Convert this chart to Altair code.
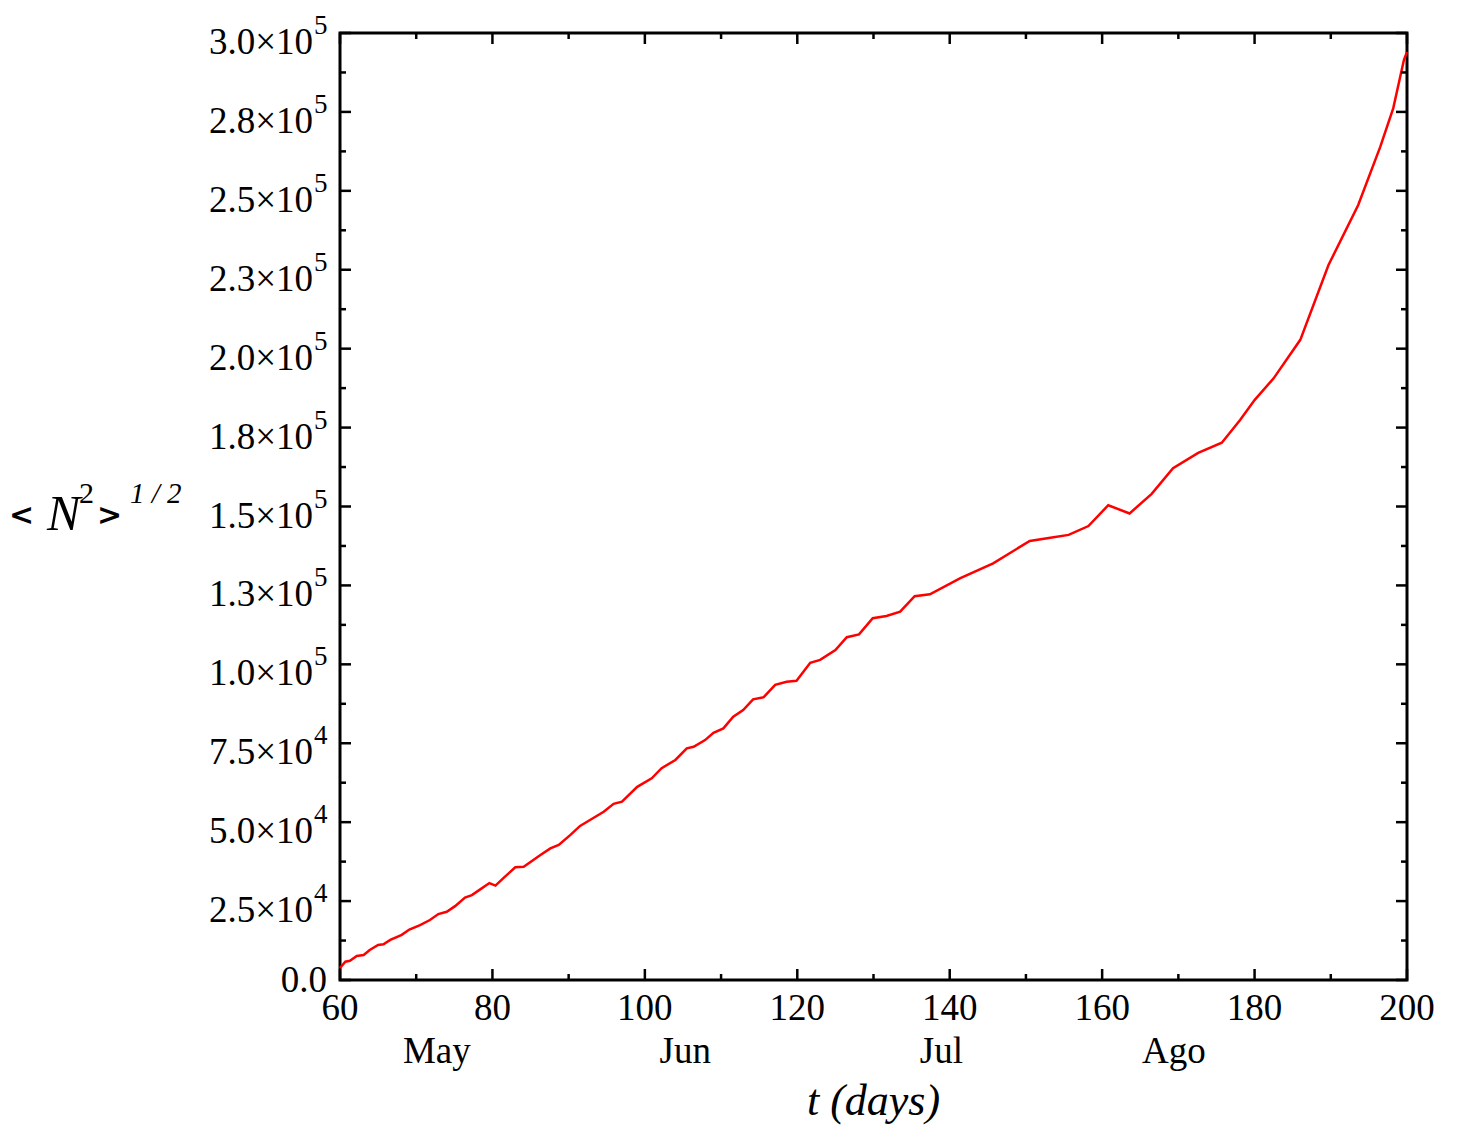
import altair as alt
import pandas as pd

# Root-mean-square population vs. time (days)
t_days = [
    60.0, 60.7, 61.3, 62.2, 63.1, 63.9, 65.0, 65.7, 66.6, 68.1, 69.1, 70.5,
    71.8, 72.9, 74.0, 75.1, 76.4, 77.3, 78.4, 79.6, 80.4, 81.4, 83.0, 84.1,
    86.3, 87.6, 88.7, 90.2, 91.5, 92.8, 94.6, 95.9, 97.0, 99.0, 100.9, 102.2,
    104.0, 105.5, 106.4, 107.9, 109.0, 110.3, 111.6, 112.9, 114.2, 115.6,
    117.1, 118.6, 119.9, 121.7, 123.0, 125.0, 126.5, 128.1, 129.9, 131.7,
    133.5, 135.4, 137.4, 141.4, 145.7, 150.5, 153.2, 155.6, 158.2, 160.8,
    163.6, 166.5, 169.3, 172.6, 175.7, 178.1, 180.0, 182.5, 186.0, 189.7,
    193.6, 196.5, 198.2, 199.6, 200.0,
]
rms_n = [
    3800, 5800, 6100, 7600, 7900, 9500, 11100, 11300, 12700, 14300, 16000, 17400,
    19000, 20900, 21600, 23400, 26100, 26900, 28700, 30700, 29900, 32200, 35700, 35900,
    39600, 41700, 42800, 45900, 48800, 50700, 53300, 55800, 56500, 61200, 63900, 67100,
    69700, 73400, 73900, 76000, 78300, 79700, 83400, 85500, 88900, 89600,
    93500, 94500, 94800, 100500, 101400, 104500, 108600, 109500, 114600, 115300,
    116700, 121600, 122200, 127300, 132000, 139100, 140100, 141000, 143800, 150400,
    147800, 154000, 162100, 167000, 170200, 177400, 183700, 190600, 202800, 226500,
    245500, 264000, 276200, 291500, 294000,
]

# Axis tick values and label texts
x_major = [60, 80, 100, 120, 140, 160, 180, 200]
x_minor = [70, 90, 110, 130, 150, 170, 190]
y_major = [0, 25000, 50000, 75000, 100000, 125000, 150000, 175000,
           200000, 225000, 250000, 275000, 300000]
y_minor = [12500, 37500, 62500, 87500, 112500, 137500, 162500, 187500,
           212500, 237500, 262500, 287500]
y_mantissa = ["0.0", "2.5×10", "5.0×10", "7.5×10", "1.0×10", "1.3×10", "1.5×10",
              "1.8×10", "2.0×10", "2.3×10", "2.5×10", "2.8×10", "3.0×10"]
y_exponent = ["", "4", "4", "4", "5", "5", "5", "5", "5", "5", "5", "5", "5"]

# Month names placed under the day axis
months = ["May", "Jun", "Jul", "Ago"]
month_day = [72.7, 105.3, 138.9, 169.4]

W, H = 1067, 947
SERIF = "Liberation Serif"
FS = 37

xs = alt.Scale(domain=[60, 200], nice=False, zero=False)
ys = alt.Scale(domain=[0, 300000], nice=False, zero=False)
x_enc = lambda: alt.X("t:Q", scale=xs, axis=None)
y_enc = lambda: alt.Y("v:Q", scale=ys, axis=None)

curve = pd.DataFrame({"t": t_days, "v": rms_n})
line = alt.Chart(curve).mark_line(color="#ff0000", strokeWidth=2.5).encode(
    x=x_enc(), y=y_enc()
)


def x_ticks(vals, length, top):
    df = pd.DataFrame({"t": vals})
    y0, y1 = (0, length) if top else (H, H - length)
    return alt.Chart(df).mark_rule(color="black", strokeWidth=2.5).encode(
        x=x_enc(), y=alt.value(y0), y2=alt.value(y1)
    )


def y_ticks(vals, length, right):
    df = pd.DataFrame({"v": vals})
    x0, x1 = (W, W - length) if right else (0, length)
    return alt.Chart(df).mark_rule(color="black", strokeWidth=2.5).encode(
        y=y_enc(), x=alt.value(x0), x2=alt.value(x1)
    )


ticks = [
    x_ticks(x_major, 11, False), x_ticks(x_minor, 6, False),
    x_ticks(x_major, 11, True), x_ticks(x_minor, 6, True),
    y_ticks(y_major, 11, False), y_ticks(y_minor, 6, False),
    y_ticks(y_major, 11, True), y_ticks(y_minor, 6, True),
]

# y tick labels: mantissa with raised exponent
ylab = pd.DataFrame({"v": y_major, "m": y_mantissa, "e": y_exponent})

mant = alt.Chart(ylab).transform_filter("datum.e != ''").mark_text(
    font=SERIF, fontSize=FS, align="right", baseline="alphabetic", dy=21, color="black"
).encode(y=y_enc(), x=alt.value(-27), text="m:N")

zero_lab = alt.Chart(ylab).transform_filter("datum.e == ''").mark_text(
    font=SERIF, fontSize=FS, align="right", baseline="alphabetic", dy=12, color="black"
).encode(y=y_enc(), x=alt.value(-13), text="m:N")

expo = alt.Chart(ylab).transform_filter("datum.e != ''").mark_text(
    font=SERIF, fontSize=27, align="left", baseline="alphabetic", dy=1, color="black"
).encode(y=y_enc(), x=alt.value(-26), text="e:N")

# x tick labels and month names
xlab = pd.DataFrame({"t": x_major})
x_text = alt.Chart(xlab).mark_text(
    font=SERIF, fontSize=FS, align="center", baseline="alphabetic", color="black"
).encode(x=x_enc(), y=alt.value(987), text=alt.Text("t:Q", format="d"))

mon = pd.DataFrame({"t": month_day, "name": months})
month_text = alt.Chart(mon).mark_text(
    font=SERIF, fontSize=FS, align="center", baseline="alphabetic", color="black"
).encode(x=x_enc(), y=alt.value(1030), text="name:N")

one = pd.DataFrame({"k": [0]})


def piece(txt, x, y, size, style="normal", weight="normal", align="left", font=SERIF):
    return alt.Chart(one).mark_text(
        text=txt, font=font, fontSize=size, fontStyle=style, fontWeight=weight,
        align=align, baseline="alphabetic", color="black",
    ).encode(x=alt.value(x), y=alt.value(y))


# axis titles:  t (days)   and   < N^2 >^(1/2)
x_title = piece("t (days)", W / 2, 1082, 44, style="italic", align="center")
y_title = [
    piece("<", -331, 492, 30, weight="bold", font="DejaVu Sans"),
    piece("N", -293, 497, 50, style="italic"),
    piece("2", -261, 470, 30),
    piece(">", -243, 492, 30, weight="bold", font="DejaVu Sans"),
    piece("1 / 2", -210, 470, 29, style="italic"),
]

chart = alt.layer(
    line, *ticks, mant, zero_lab, expo, x_text, month_text, x_title, *y_title
).properties(
    width=W, height=H,
    autosize=alt.AutoSizeParams(type="none"),
    padding={"left": 340, "top": 33, "right": 50, "bottom": 150},
    background="white",
).configure_view(stroke="black", strokeWidth=3)

chart.save("out.html", embed_options={"renderer": "svg", "actions": False})
